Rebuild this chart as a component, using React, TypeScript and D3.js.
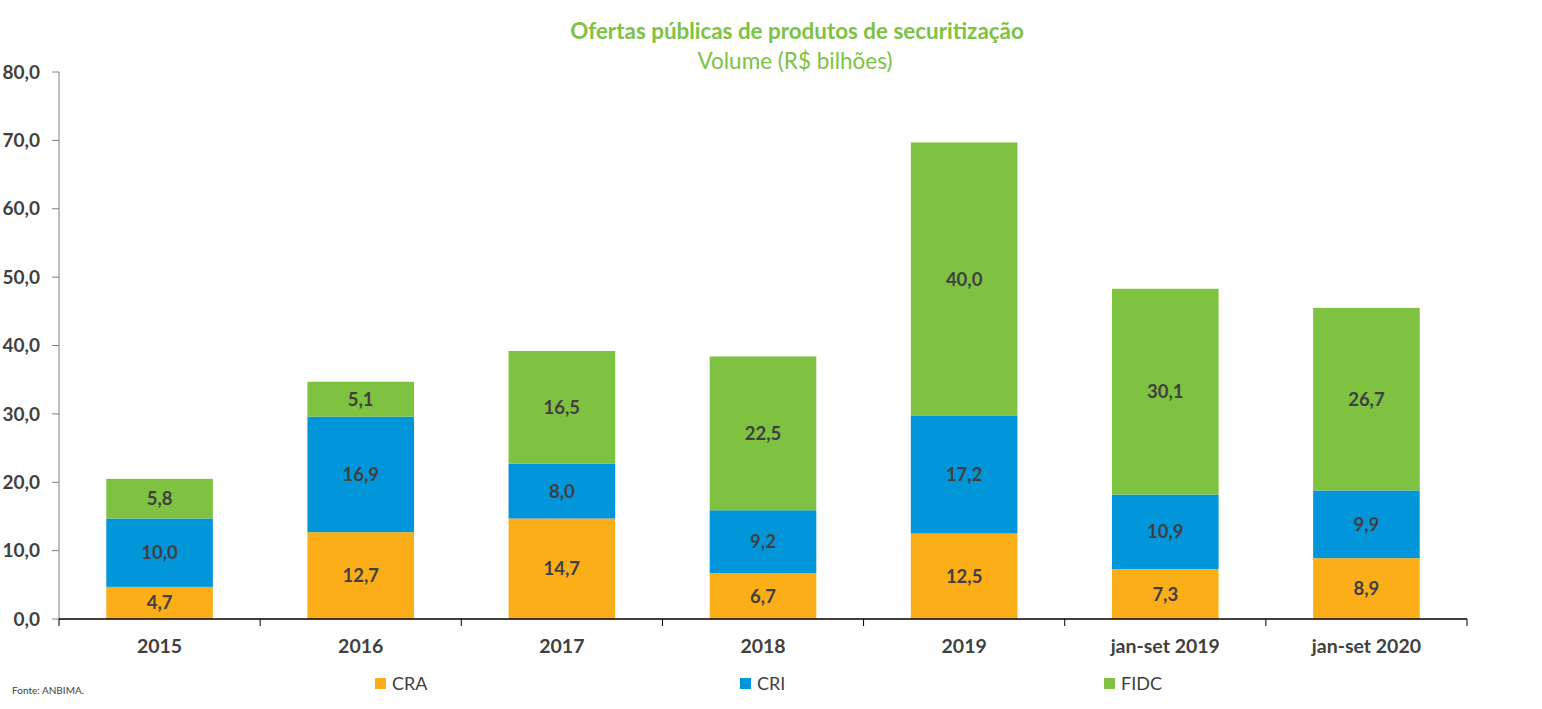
import React from "react";
import * as d3 from "d3";

const categories = ["2015", "2016", "2017", "2018", "2019", "jan-set 2019", "jan-set 2020"];
const seriesNames = ["CRA", "CRI", "FIDC"];
const craValues = [4.7, 12.7, 14.7, 6.7, 12.5, 7.3, 8.9];
const criValues = [10.0, 16.9, 8.0, 9.2, 17.2, 10.9, 9.9];
const fidcValues = [5.8, 5.1, 16.5, 22.5, 40.0, 30.1, 26.7];
const yTicks = [0, 10, 20, 30, 40, 50, 60, 70, 80];
const colors = ["#FBAE18", "#0096D9", "#7FC241"];

const W = 1542;
const H = 709;
const margin = { left: 59, right: 75, top: 72, bottom: 90 };
const FONT = "Lato, 'Open Sans', sans-serif";
const TXT = "#404040";

const fmt = (v: number) => v.toFixed(1).replace(".", ",");

export default function App() {
  const x = d3
    .scaleBand<string>()
    .domain(categories)
    .range([margin.left, W - margin.right])
    .paddingInner(0.47)
    .paddingOuter(0.235);
  const y = d3.scaleLinear().domain([0, 80]).range([H - margin.bottom, margin.top]);

  const rows = categories.map((c, i) => ({ cat: c, CRA: craValues[i], CRI: criValues[i], FIDC: fidcValues[i] }));
  const stacked = d3.stack<any>().keys(seriesNames)(rows);

  const step = (W - margin.right - margin.left) / categories.length;
  const boundaries = d3.range(categories.length + 1).map((i) => margin.left + i * step);
  const legendX = [375, 740, 1104];

  return (
    <svg width={W} height={H} style={{ position: "absolute", left: 0, top: 0, background: "#fff" }} fontFamily={FONT}>
      <text x={797} y={39} textAnchor="middle" fontSize={22.4} fontWeight="bold" fill="#7DC242">
        Ofertas públicas de produtos de securitização
      </text>
      <text x={795} y={69} textAnchor="middle" fontSize={22.5} fill="#7DC242">
        Volume (R$ bilhões)
      </text>

      {stacked.map((s, si) => (
        <g key={s.key}>
          {s.map((d, i) => (
            <rect
              key={i}
              x={x(categories[i])}
              width={x.bandwidth()}
              y={y(d[1])}
              height={y(d[0]) - y(d[1])}
              fill={colors[si]}
            />
          ))}
        </g>
      ))}
      {stacked.map((s) => (
        <g key={"l" + s.key}>
          {s.map((d, i) => (
            <text
              key={i}
              x={(x(categories[i]) as number) + x.bandwidth() / 2}
              y={y((d[0] + d[1]) / 2)}
              dy="0.35em"
              textAnchor="middle"
              fontSize={18.5}
              fontWeight="bold"
              fill={TXT}
            >
              {fmt(d[1] - d[0])}
            </text>
          ))}
        </g>
      ))}

      {/* y axis */}
      <line x1={margin.left} x2={margin.left} y1={y(80)} y2={y(0)} stroke="#808080" strokeWidth={1} />
      {yTicks.map((t) => (
        <g key={t}>
          <line x1={margin.left - 7} x2={margin.left} y1={y(t)} y2={y(t)} stroke="#808080" />
          <text x={40} y={y(t)} dy="0.35em" textAnchor="end" fontSize={19} fontWeight="bold" fill={TXT}>
            {fmt(t)}
          </text>
        </g>
      ))}

      {/* x axis */}
      <line x1={margin.left} x2={W - margin.right} y1={y(0)} y2={y(0)} stroke="#000" strokeWidth={1.3} />
      {boundaries.map((b, i) => (
        <line key={i} x1={b} x2={b} y1={y(0)} y2={y(0) + 7} stroke="#000" />
      ))}
      {categories.map((c) => (
        <text
          key={c}
          x={(x(c) as number) + x.bandwidth() / 2}
          y={653}
          textAnchor="middle"
          fontSize={19.5}
          fontWeight="bold"
          fill={TXT}
        >
          {c}
        </text>
      ))}

      {/* legend */}
      {seriesNames.map((n, i) => (
        <g key={n}>
          <rect x={legendX[i]} y={678} width={11} height={11} fill={colors[i]} />
          <text x={legendX[i] + 17} y={690} fontSize={18} fill={TXT}>
            {n}
          </text>
        </g>
      ))}

      <text x={12} y={694} fontSize={10} fill={TXT}>
        Fonte: ANBIMA.
      </text>
    </svg>
  );
}
